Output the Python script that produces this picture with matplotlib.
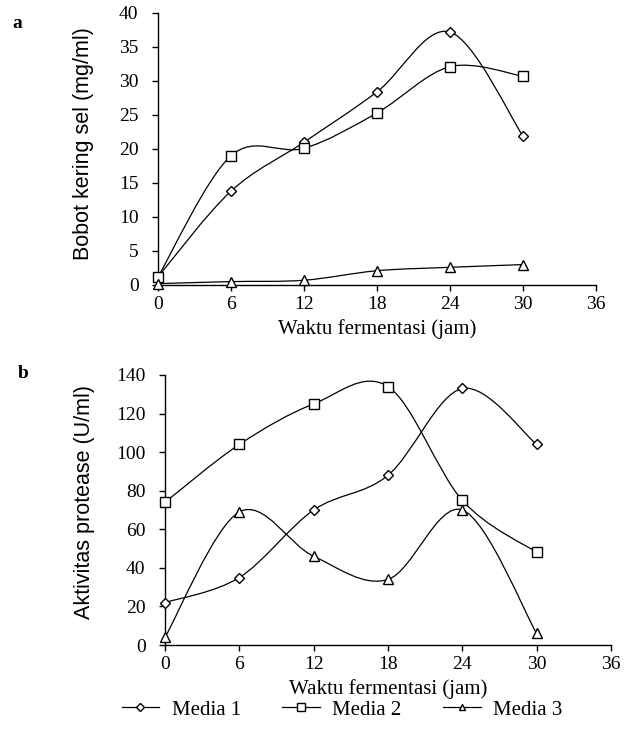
import matplotlib
matplotlib.use("Agg")
import matplotlib.pyplot as plt
from matplotlib.path import Path
from matplotlib.patches import PathPatch
from matplotlib.lines import Line2D

# data
waktu = [0, 6, 12, 18, 24, 30]

bobot_media1 = [1.2, 13.8, 21.0, 28.4, 37.2, 21.9]
bobot_media2 = [1.2, 19.0, 20.1, 25.3, 32.1, 30.7]
bobot_media3 = [0.2, 0.5, 0.7, 2.1, 2.6, 3.0]

protease_media1 = [22, 35, 70, 88, 133, 104]
protease_media2 = [74, 104, 125, 134, 75, 48]
protease_media3 = [4, 69, 46, 34, 70, 6]

label_media = ["Media 1", "Media 2", "Media 3"]
marker_media = ["D", "s", "^"]
msize_media = [5, 7.5, 6.5]

x_ticks = [0, 6, 12, 18, 24, 30, 36]

plt.rcParams['font.family'] = ['Liberation Serif', 'DejaVu Serif']


def smooth_line(ax, xs, ys):
    # smoothed line like a spreadsheet chart (bezier through the points)
    pts = list(zip(xs, ys))
    verts = [pts[0]]
    codes = [Path.MOVETO]
    n = len(pts)
    for i in range(n - 1):
        p0 = pts[max(i - 1, 0)]
        p1 = pts[i]
        p2 = pts[i + 1]
        p3 = pts[min(i + 2, n - 1)]
        c1 = (p1[0] + (p2[0] - p0[0]) / 6, p1[1] + (p2[1] - p0[1]) / 6)
        c2 = (p2[0] - (p3[0] - p1[0]) / 6, p2[1] - (p3[1] - p1[1]) / 6)
        verts += [c1, c2, p2]
        codes += [Path.CURVE4] * 3
    ax.add_patch(PathPatch(Path(verts, codes), fill=False, edgecolor='black',
                           linewidth=0.9, clip_on=False))


def draw_panel(ax, series, ymax, ystep, ylabel, labelx, labely):
    for ys, m, ms in zip(series, marker_media, msize_media):
        smooth_line(ax, waktu, ys)
        ax.plot(waktu, ys, linestyle='none', marker=m, markersize=ms,
                markerfacecolor='white', markeredgecolor='black',
                markeredgewidth=1.0, clip_on=False, zorder=3)
    ax.set_xlim(0, 36)
    ax.set_ylim(0, ymax)
    ax.set_xticks(x_ticks)
    ax.set_yticks(range(0, ymax + 1, ystep))
    ax.spines['top'].set_visible(False)
    ax.spines['right'].set_visible(False)
    ax.spines['left'].set_linewidth(1.0)
    ax.spines['bottom'].set_linewidth(1.0)
    ax.tick_params(axis='x', direction='out', length=4, width=1, pad=4, labelsize=14)
    ax.tick_params(axis='y', direction='out', length=4, width=1, pad=10, labelsize=14)
    ax.set_xlabel("Waktu fermentasi (jam)", fontsize=15, labelpad=4)
    ax.set_ylabel(ylabel, fontsize=15.5, family=['Liberation Sans', 'DejaVu Sans'])
    ax.yaxis.set_label_coords(labelx, labely)


fig = plt.figure(figsize=(6.29, 7.37), dpi=100)

ax1 = fig.add_axes([0.2512, 0.6133, 0.6963, 0.3691])
draw_panel(ax1, [bobot_media1, bobot_media2, bobot_media3], 40, 5,
           "Bobot kering sel (mg/ml)", -0.146, 0.52)

ax2 = fig.add_axes([0.2623, 0.1248, 0.7091, 0.3664])
draw_panel(ax2, [protease_media1, protease_media2, protease_media3], 140, 20,
           "Aktivitas protease (U/ml)", -0.157, 0.53)

fig.text(0.02, 0.962, "a", fontsize=14, fontweight='bold')
fig.text(0.028, 0.487, "b", fontsize=14, fontweight='bold')

handles = [Line2D([], [], color='black', linewidth=0.9, marker=m, markersize=ms * 0.75,
                  markerfacecolor='white', markeredgecolor='black')
           for m, ms in zip(marker_media, msize_media)]
fig.legend(handles, label_media, loc='center', bbox_to_anchor=(0.544, 0.037),
           ncol=3, frameon=False, fontsize=15, handlelength=1.8,
           handletextpad=0.6, columnspacing=2.0)

fig.savefig("out.png", dpi=100)
